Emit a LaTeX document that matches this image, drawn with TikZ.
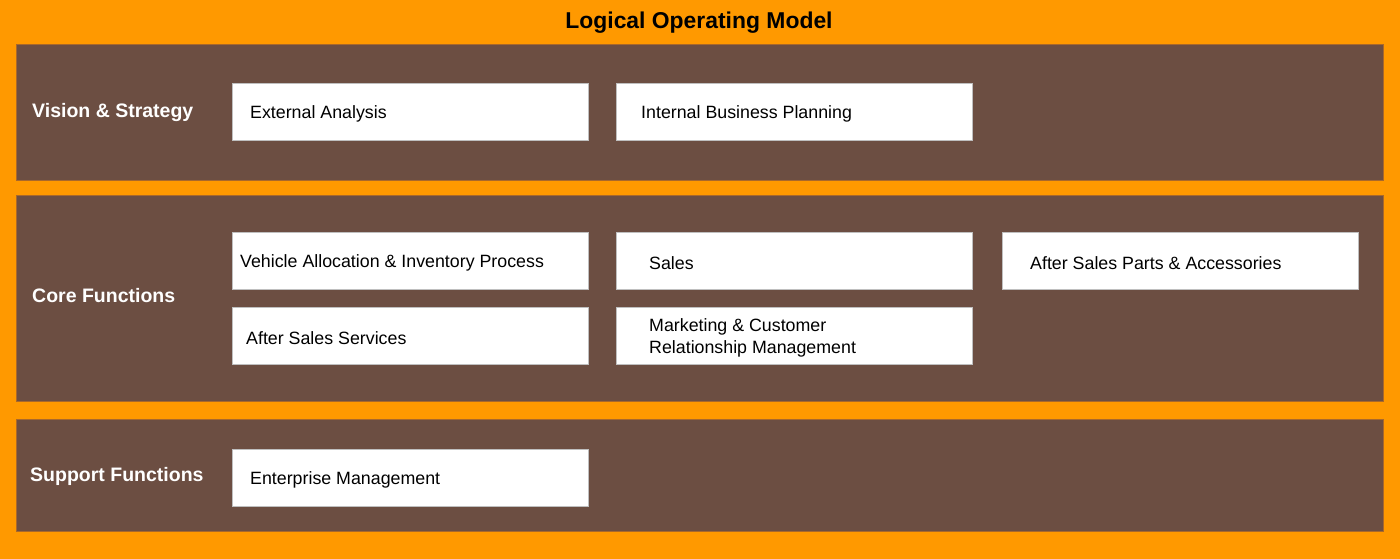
\documentclass[tikz,border=0pt]{standalone}
\usepackage{fontspec}
\setmainfont{Liberation Sans}
\usetikzlibrary{positioning}
\definecolor{lomorange}{HTML}{FF9900}
\definecolor{lombrown}{HTML}{6C4E42}
\definecolor{lomedge}{HTML}{A8682C}

\begin{document}
\begin{tikzpicture}[x=1pt, y=-1pt,
  band/.style={fill=lombrown, draw=lomedge, line width=0.8pt, anchor=north west, inner sep=0pt},
  fn/.style={fill=white, draw=black!25, minimum width=356pt, minimum height=57pt, anchor=north west, inner sep=0pt},
  fntext/.style={font=\fontsize{17.8}{22}\selectfont, align=left, inner sep=0pt, anchor=west, yshift=-2pt},
  bandlabel/.style={font=\fontsize{19.5}{22}\selectfont\bfseries, text=white, anchor=west, inner sep=0pt}]
  \fill[lomorange] (0,0) rectangle (1400,559);
  \node[font=\fontsize{22.9}{26}\selectfont\bfseries] (title) at (699,22.5) {Logical Operating Model};

  \node[band, minimum width=1367pt, minimum height=136pt] (vision) at (16,44) {};
  \node[band, minimum width=1367pt, minimum height=206pt] (core) at (16,195) {};
  \node[band, minimum width=1367pt, minimum height=112pt] (support) at (16,419) {};

  \node[bandlabel, right=16pt of vision.west] {Vision \& Strategy};
  \node[bandlabel, right=16pt of core.west, yshift=3pt] {Core Functions};
  \node[bandlabel, right=14pt of support.west, yshift=-1pt] {Support Functions};

  \node[fn] (ext) at (232,83) {};
  \node[fntext, right=18pt of ext.west] {External Analysis};
  \node[fn] (ibp) at (616,83) {};
  \node[fntext, right=25pt of ibp.west] {Internal Business Planning};

  \node[fn] (vai) at (232,232) {};
  \node[fntext, right=8pt of vai.west] {Vehicle Allocation \& Inventory Process};
  \node[fn] (sales) at (616,232) {};
  \node[fntext, right=33pt of sales.west] {Sales};
  \node[fn] (aspa) at (1002,232) {};
  \node[fntext, right=28pt of aspa.west] {After Sales Parts \& Accessories};
  \node[fn] (ass) at (232,307) {};
  \node[fntext, right=14pt of ass.west] {After Sales Services};
  \node[fn] (mcrm) at (616,307) {};
  \node[fntext, right=33pt of mcrm.west] {Marketing \& Customer\\Relationship Management};

  \node[fn] (ent) at (232,449) {};
  \node[fntext, right=18pt of ent.west] {Enterprise Management};
\end{tikzpicture}
\end{document}
